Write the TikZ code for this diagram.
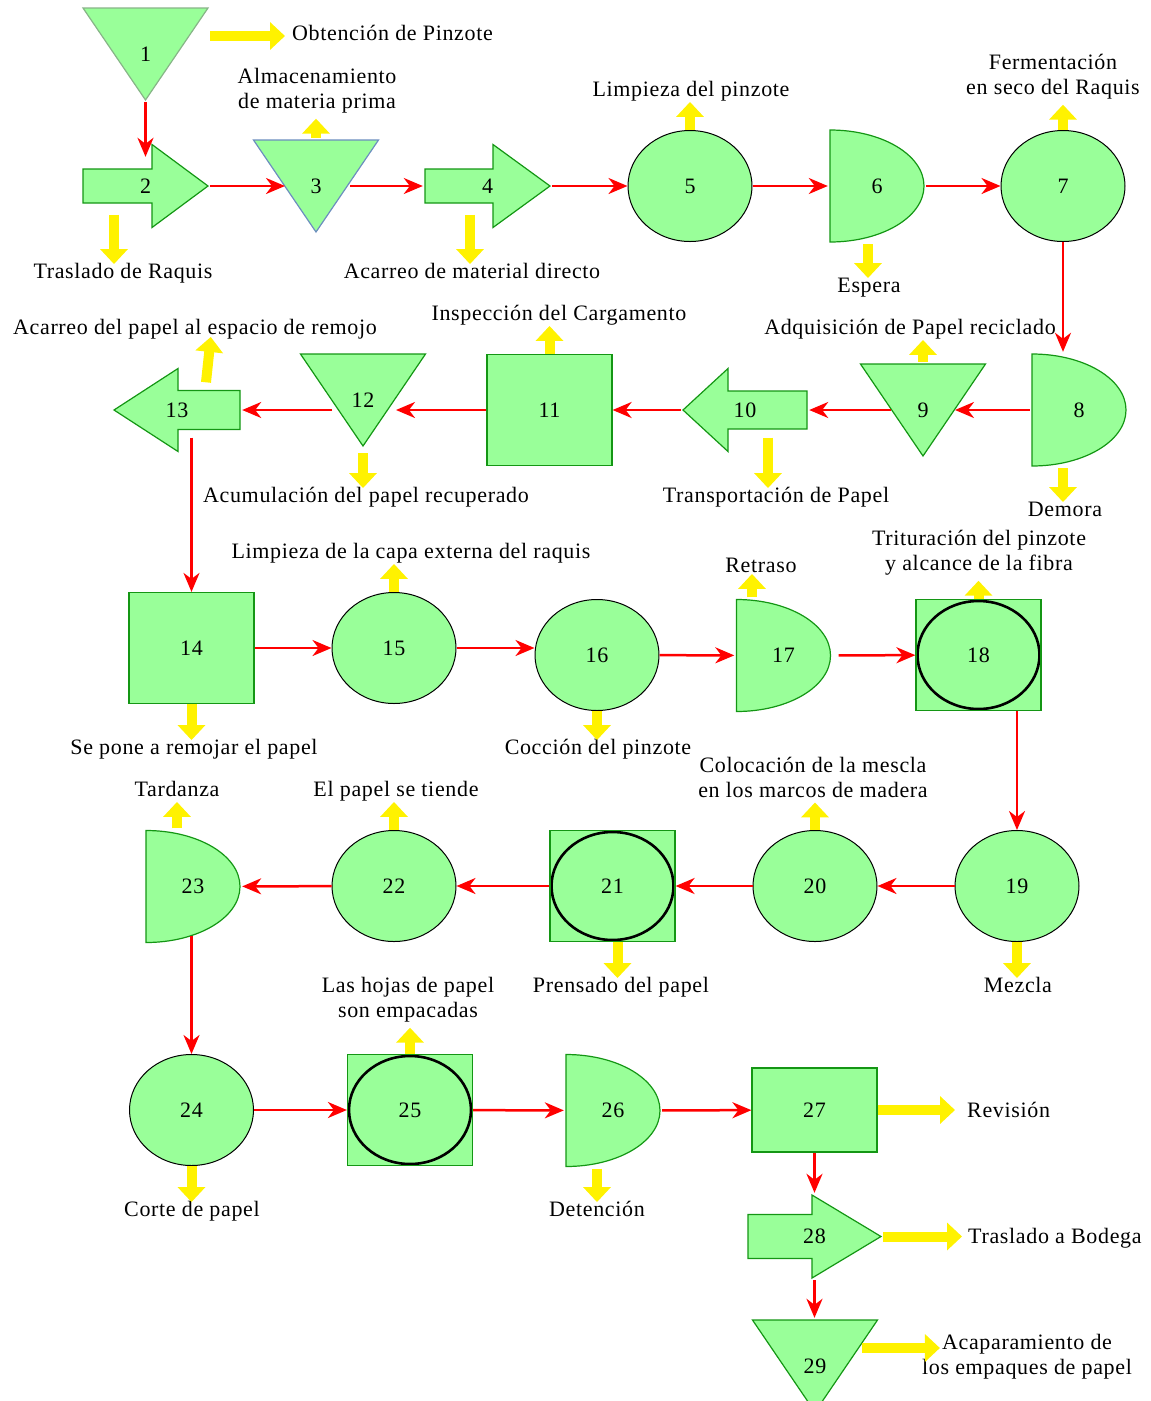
\documentclass[tikz,border=0pt]{standalone}
\usepackage{fontspec}
\setmainfont{Liberation Serif}[LetterSpace=3]
\usepackage{tikz}
\usetikzlibrary{shapes.geometric, arrows.meta, backgrounds}
\definecolor{lgreen}{RGB}{153,255,153}
\definecolor{dgreen}{RGB}{20,150,20}
\definecolor{tgray}{RGB}{135,180,135}
\definecolor{tblue}{RGB}{108,142,191}
\tikzstyle{ocell} = [ellipse, draw=black, fill=lgreen, minimum width=124, minimum height=111, inner sep=0pt, line width=1pt]
\tikzstyle{icell} = [rectangle, draw=dgreen, fill=lgreen, minimum width=125, minimum height=111, inner sep=0pt, line width=1.2pt]
\tikzstyle{ccell} = [icell, path picture={\draw[draw=black, line width=2.6pt] (path picture bounding box.center) ellipse [x radius=61, y radius=54];}]
\tikzstyle{dcell} = [rectangle, minimum width=98, minimum height=116, inner sep=0pt]
\tikzstyle{scell} = [rectangle, minimum width=129, minimum height=96, inner sep=0pt]
\tikzset{tcell/.style={rectangle, minimum width=#1+4, minimum height=87, inner sep=0pt}}
\tikzstyle{outline} = [draw=dgreen, fill=lgreen, line width=1.2pt]
\tikzstyle{lab} = [inner sep=0pt, text height=0.93em, text depth=0.02em, yshift=-3pt]
\tikzstyle{labs} = [inner sep=0pt, align=center, yshift=-2pt]
\tikzstyle{flow} = [draw=red, line width=2.5pt, -{Stealth[length=19pt, width=16pt, inset=6pt]}]
\tikzstyle{yarrow} = [draw=yellow, line width=10pt, -{Triangle[length=15pt, width=27pt]}, shorten >=5pt]

\begin{document}
\begin{tikzpicture}[x=1pt, y=-1pt, font=\fontsize{22}{25}\selectfont]
    \useasboundingbox (0,0) rectangle (1151,1401);

    \node[scell] (s1) at (145.5,54) {1};
    \node[tcell=125] (s2) at (145.5,186) {2};
    \node[scell] (s3) at (316,186) {3};
    \node[tcell=125] (s4) at (487.5,186) {4};
    \node[ocell] (s5) at (690,186) {5};
    \node[dcell] (s6) at (877,186) {6};
    \node[ocell] (s7) at (1063,186) {7};

    \node[dcell] (s8) at (1079,410) {8};
    \node[scell] (s9) at (923,410) {9};
    \node[tcell=124] (s10) at (745,410) {10};
    \node[icell] (s11) at (549.5,410) {11};
    \node[scell] (s12) at (363,400) {12};
    \node[tcell=126] (s13) at (177,410) {13};

    \node[icell] (s14) at (191.5,648) {14};
    \node[ocell] (s15) at (394,648) {15};
    \node[ocell] (s16) at (597,655) {16};
    \node[dcell] (s17) at (783.5,655.5) {17};
    \node[ccell] (s18) at (978.5,655) {18};

    \node[ocell] (s19) at (1017,886) {19};
    \node[ocell] (s20) at (815,886) {20};
    \node[ccell] (s21) at (612.5,886) {21};
    \node[ocell] (s22) at (394,886) {22};
    \node[dcell] (s23) at (193,886.5) {23};

    \node[ocell] (s24) at (191.5,1110) {24};
    \node[ccell] (s25) at (410,1110) {25};
    \node[dcell] (s26) at (613,1110.5) {26};
    \node[icell, minimum height=84] (s27) at (814.5,1110) {27};
    \node[tcell=133] (s28) at (814.5,1236.5) {28};
    \node[scell] (s29) at (815,1366) {29};

    \begin{pgfonlayer}{background}
        \foreach \n/\col in {s1/tgray, s3/tblue, s9/dgreen, s12/dgreen, s29/dgreen}
            \draw[outline, draw=\col, shift={(\n.center)}] (-62.5,-46) -- (62.5,-46) -- (0,46) -- cycle;
        \foreach \n in {s6, s8, s17, s23, s26}
            \draw[outline, shift={(\n.center)}] (-47,-56) .. controls (5,-56) and (47,-31) .. (47,0) .. controls (47,31) and (5,56) .. (-47,56) -- cycle;
        \foreach \n/\len/\hs/\hl/\dir in {s2/125/17/56/1, s4/125/17/57/1, s10/124/19/45/-1, s13/126/19.5/64/-1, s28/133/22/69/1}
            \draw[outline, shift={(\n.center)}, xscale=\dir] ({-\len/2},-\hs) -- ({\len/2-\hl},-\hs) -- ({\len/2-\hl},-41.5) -- ({\len/2},0) -- ({\len/2-\hl},41.5) -- ({\len/2-\hl},\hs) -- ({-\len/2},\hs) -- cycle;
    \end{pgfonlayer}

    \node[lab, anchor=west] (l1) at (292,33) {Obtención de Pinzote};
    \node[lab] (l2) at (123,271) {Traslado de Raquis};
    \node[labs] (l3) at (317,89) {Almacenamiento\\de materia prima};
    \node[lab] (l4) at (472,271) {Acarreo de material directo};
    \node[lab] (l5) at (691,89) {Limpieza del pinzote};
    \node[lab] (l6) at (869,285) {Espera};
    \node[labs] (l7) at (1053,75) {Fermentación\\en seco del Raquis};
    \node[lab] (l8) at (1065,509) {Demora};
    \node[lab] (l9) at (910,327) {Adquisición de Papel reciclado};
    \node[lab] (l10) at (776,495) {Transportación de Papel};
    \node[lab] (l11) at (559,313) {Inspección del Cargamento};
    \node[lab] (l12) at (366,495) {Acumulación del papel recuperado};
    \node[lab] (l13) at (195,327) {Acarreo del papel al espacio de remojo};
    \node[lab] (l14) at (194,747) {Se pone a remojar el papel};
    \node[lab] (l15) at (411,551) {Limpieza de la capa externa del raquis};
    \node[lab] (l16) at (598,747) {Cocción del pinzote};
    \node[lab] (l17) at (761,565) {Retraso};
    \node[labs] (l18) at (979,551) {Trituración del pinzote\\y alcance de la fibra};
    \node[lab] (l19) at (1018,985) {Mezcla};
    \node[labs] (l20) at (813,775) {Colocación de la mescla\\en los marcos de madera};
    \node[lab] (l21) at (621,985) {Prensado del papel};
    \node[lab] (l22) at (396,789) {El papel se tiende};
    \node[lab] (l23) at (177,789) {Tardanza};
    \node[lab] (l24) at (192,1209) {Corte de papel};
    \node[labs] (l25) at (408,998) {Las hojas de papel\\son empacadas};
    \node[lab] (l26) at (597,1209) {Detención};
    \node[lab, anchor=west] (l27) at (967,1110) {Revisión};
    \node[lab, anchor=west] (l28) at (968,1236) {Traslado a Bodega};
    \node[labs] (l29) at (1027,1355) {Acaparamiento de\\los empaques de papel};

    \path[flow] (s1.south) -- ([yshift=-14.5pt]s1.south |- s2.north);
    \path[flow, shorten >=31pt] (s2.east) -- (s3.center);
    \path[flow, shorten <=34pt] (s3.center) -- (s4.west);
    \path[flow] (s4) -- (s5);
    \path[flow] (s5) -- (s6);
    \path[flow] (s6) -- (s7);
    \path[flow] (s7.south) -- (s7.south |- s8.north);
    \path[flow, shorten >=32pt] (s8) -- (s9.center);
    \path[flow, shorten <=32pt] (s9.center) -- (s10);
    \path[flow] (s10) -- (s11);
    \path[flow, shorten >=33pt] (s11.west) -- (s11.west -| s12.center);
    \path[flow, shorten <=31pt] (s12.center |- s13.east) -- (s13.east);
    \path[flow] ([yshift=16pt]s14.north |- s13.south) -- (s14.north);
    \path[flow] (s14) -- (s15);
    \path[flow] (s15) -- (s15 -| s16.west);
    \path[flow] (s16) -- (s17);
    \path[flow, shorten <=6pt] (s17) -- (s18);
    \path[flow] (s19.north |- s18.south) -- (s19.north);
    \path[flow] (s19) -- (s20);
    \path[flow] (s20) -- (s21);
    \path[flow] (s21) -- (s22);
    \path[flow] (s22) -- (s23);
    \path[flow] ([yshift=9pt]s24.north |- s23.south) -- (s24.north);
    \path[flow] (s24) -- (s25);
    \path[flow] (s25) -- (s26);
    \path[flow] (s26) -- (s27);
    \path[flow] (s27.south) -- (s27.south |- s28.north);
    \path[flow] (s27.south |- s28.south) -- (s27.south |- s29.north);

    \path[yarrow, shorten >=7pt] (s1.east |- l1.west) -- (l1.west);
    \path[yarrow] ([xshift=-31.5pt,yshift=15pt]s2.south) -- ([xshift=-31.5pt]s2.south |- l2.north);
    \path[yarrow] (s3.north) -- (s3.north |- l3.south);
    \path[yarrow] ([xshift=-17.5pt,yshift=15pt]s4.south) -- ([xshift=-17.5pt]s4.south |- l4.north);
    \path[yarrow] (s5.north) -- (s5.north |- l5.south);
    \path[yarrow] ([xshift=-9pt]s6.south) -- ([xshift=-9pt]s6.south |- l6.north);
    \path[yarrow] (s7.north) -- (s7.north |- l7.south);
    \path[yarrow] ([xshift=-16pt]s8.south) -- ([xshift=-16pt]s8.south |- l8.north);
    \path[yarrow] (s9.north) -- (s9.north |- l9.south);
    \path[yarrow] ([xshift=23pt,yshift=16pt]s10.south) -- ([xshift=23pt]s10.south |- l10.north);
    \path[yarrow] (s11.north) -- (s11.north |- l11.south);
    \path[yarrow] ([yshift=-5pt]s12.south) -- (s12.south |- l12.north);
    \path[yarrow, shorten >=2pt] ([xshift=29pt,yshift=-16pt]s13.north) -- ([xshift=34pt]s13.north |- l13.south);
    \path[yarrow] (s14.south) -- (s14.south |- l14.north);
    \path[yarrow] (s15.north) -- (s15.north |- l15.south);
    \path[yarrow] (s16.south) -- (s16.south |- l16.north);
    \path[yarrow, shorten >=1pt] ([xshift=-31.5pt]s17.north) -- ([xshift=-31.5pt]s17.north |- l17.south);
    \path[yarrow] (s18.north) -- (s18.north |- l18.south);
    \path[yarrow] (s19.south) -- (s19.south |- l19.north);
    \path[yarrow] (s20.north) -- (s20.north |- l20.south);
    \path[yarrow] ([xshift=5pt]s21.south) -- ([xshift=5pt]s21.south |- l21.north);
    \path[yarrow] (s22.north) -- (s22.north |- l22.south);
    \path[yarrow] ([xshift=-16pt]s23.north) -- ([xshift=-16pt]s23.north |- l23.south);
    \path[yarrow] (s24.south) -- (s24.south |- l24.north);
    \path[yarrow] (s25.north) -- (s25.north |- l25.south);
    \path[yarrow] ([xshift=-16pt]s26.south) -- ([xshift=-16pt]s26.south |- l26.north);
    \path[yarrow, shorten >=12pt] (s27.east) -- (s27.east -| l27.west);
    \path[yarrow, shorten >=6pt] (s28.east) -- (s28.east -| l28.west);
    \path[yarrow, shorten >=0pt] ([xshift=47pt,yshift=18pt]s29.center) -- ([xshift=18pt,yshift=9pt]l29.west);
\end{tikzpicture}
\end{document}
